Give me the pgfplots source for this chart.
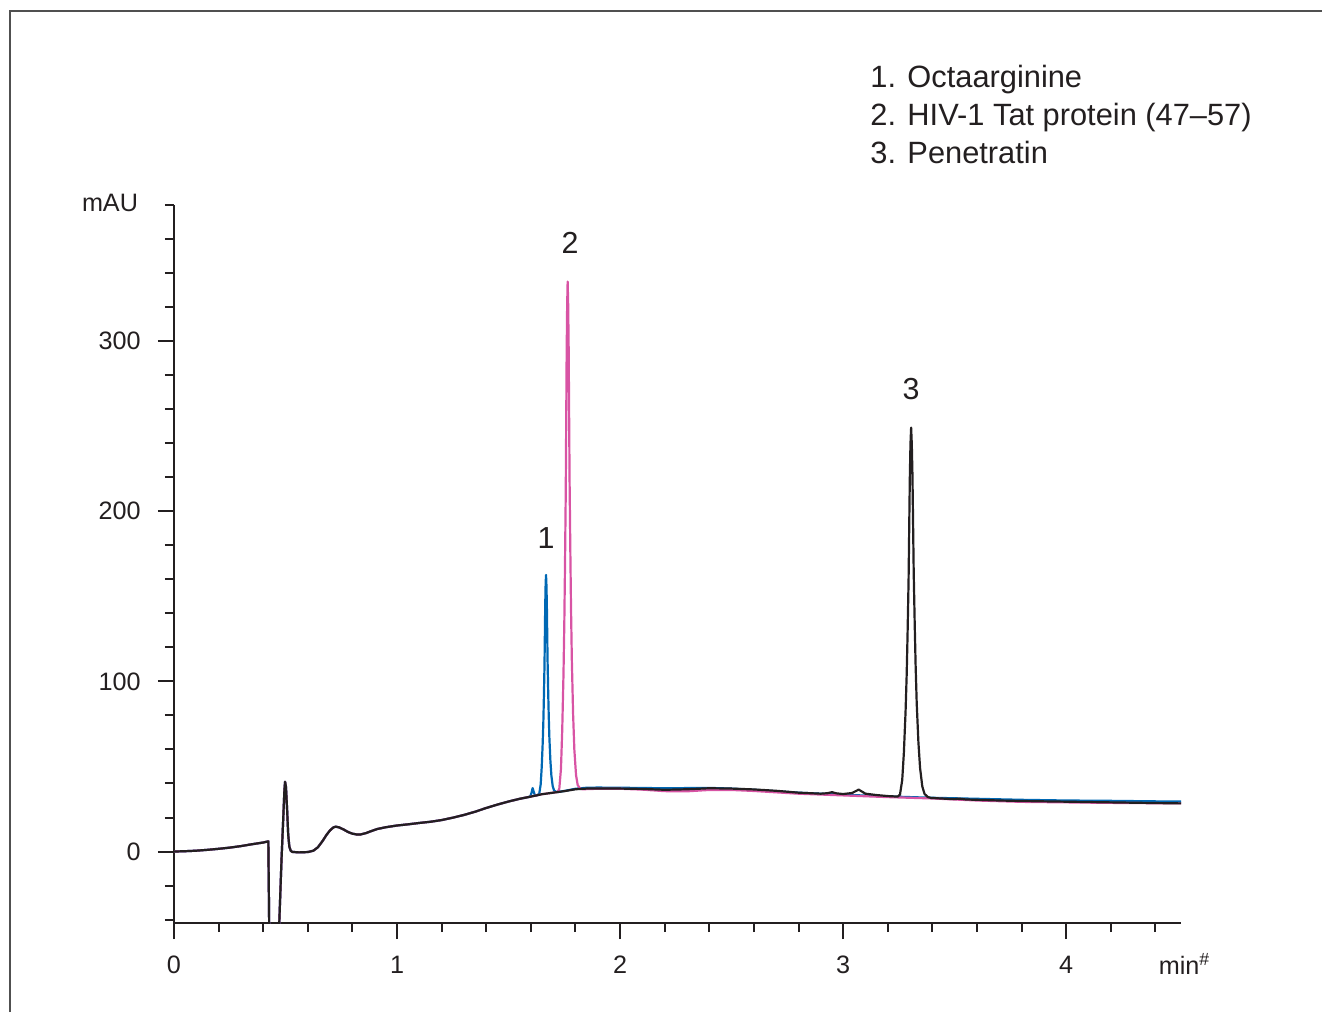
\documentclass[border=0pt]{standalone}
\usepackage{fontspec}
\setmainfont{Liberation Sans}
\usepackage{pgfplots}
\pgfplotsset{compat=1.18}
\usepackage{pgfplotstable}
\definecolor{cblue}{RGB}{0,104,180}
\definecolor{cpink}{RGB}{216,84,164}
\definecolor{cblack}{RGB}{35,31,32}
\definecolor{cframe}{RGB}{80,80,80}

\pgfplotstableread{
x y
0 0
0.05 0.2
0.1 0.5
0.15 1.0
0.2 1.6
0.25 2.3
0.3 3.2
0.35 4.3
0.4 5.3
0.423 6.0
0.428 -60
0.466 -60
0.472 -42
0.482 -5
0.490 20
0.495 36
0.498 41
0.502 38
0.507 25
0.512 10
0.517 3
0.523 0.5
0.53 -0.2
0.56 -0.5
0.6 -0.3
0.625 0.5
0.645 2.5
0.665 6
0.685 10
0.70 12.5
0.715 14.2
0.725 14.6
0.74 14.2
0.76 13
0.78 11.5
0.80 10.5
0.82 10
0.835 10
0.86 10.8
0.88 11.8
0.91 13.2
0.95 14.3
1.0 15.3
1.05 16
1.1 16.8
1.15 17.5
1.2 18.5
1.25 19.9
1.3 21.5
1.35 23.4
1.4 25.6
1.45 27.6
1.5 29.4
1.55 31
1.6 32.3
1.65 33.7
1.7 34.6
1.75 35.5
1.8 36.6
1.85 37
1.9 37
2.0 37
2.1 36.8
2.2 36.3
2.3 36.6
2.4 37.2
2.5 37.0
2.6 36.5
2.7 35.7
2.8 34.6
2.9 34.0
2.93 34.3
2.95 34.9
2.97 34.2
3.0 33.8
3.04 34.4
3.07 36.4
3.10 34.0
3.15 33.2
3.2 32.6
3.245 32.3
3.255 33.5
3.265 42.0
3.2725 58.2
3.28 82.1
3.285 103.8
3.289 127.7
3.2935 159.2
3.299 218.8
3.302 239.4
3.305 249.2
3.308 239.2
3.311 220.8
3.3165 164.4
3.321 134
3.325 110
3.33 87.2
3.3375 64.5
3.345 49.2
3.355 38.3
3.365 33.9
3.38 32.0
3.395 31.5
3.45 31.1
3.5 30.8
3.52 31.1
3.55 30.6
3.6 30.4
3.7 30.0
3.8 29.7
4.0 29.3
4.2 28.9
4.4 28.5
4.515 28.3
}\penetratin

\pgfplotstableread{
x y
0 0
0.05 0.2
0.1 0.5
0.15 1.0
0.2 1.6
0.25 2.3
0.3 3.2
0.35 4.3
0.4 5.3
0.423 6.0
0.428 -60
0.466 -60
0.472 -42
0.482 -5
0.490 20
0.495 36
0.498 41
0.502 38
0.507 25
0.512 10
0.517 3
0.523 0.5
0.53 -0.2
0.56 -0.5
0.6 -0.3
0.625 0.5
0.645 2.5
0.665 6
0.685 10
0.70 12.5
0.715 14.2
0.725 14.6
0.74 14.2
0.76 13
0.78 11.5
0.80 10.5
0.82 10
0.835 10
0.86 10.8
0.88 11.8
0.91 13.2
0.95 14.3
1.0 15.3
1.05 16
1.1 16.8
1.15 17.5
1.2 18.5
1.25 19.9
1.3 21.5
1.35 23.4
1.4 25.6
1.45 27.6
1.5 29.4
1.55 31
1.59 32.0
1.598 32.6
1.603 34.5
1.608 37.3
1.613 35.0
1.618 33.2
1.625 32.9
1.632 33.3
1.638 34.3
1.644 39.4
1.6485 49.1
1.653 63.4
1.656 76.2
1.6584 90.5
1.6611 109.1
1.6644 144.6
1.6662 156.8
1.668 162.6
1.6698 156.8
1.6716 145.9
1.6749 112.5
1.6776 94.5
1.68 80.5
1.683 67
1.6875 53.6
1.692 44.7
1.698 38.4
1.704 35.9
1.713 35.1
1.722 35
1.75 35.6
1.8 36.9
1.85 37.5
1.9 37.6
2.0 37.5
2.2 37.2
2.4 37.4
2.5 37.0
2.6 36.3
2.8 34.6
3.0 33.4
3.2 32.4
3.4 31.6
3.6 31.0
3.8 30.4
4.0 30.0
4.2 29.8
4.4 29.5
4.515 29.4
}\octaarginine

\pgfplotstableread{
x y
0 0
0.05 0.2
0.1 0.5
0.15 1.0
0.2 1.6
0.25 2.3
0.3 3.2
0.35 4.3
0.4 5.3
0.423 6.0
0.428 -60
0.466 -60
0.472 -42
0.482 -5
0.490 20
0.495 36
0.498 41
0.502 38
0.507 25
0.512 10
0.517 3
0.523 0.5
0.53 -0.2
0.56 -0.5
0.6 -0.3
0.625 0.5
0.645 2.5
0.665 6
0.685 10
0.70 12.5
0.715 14.2
0.725 14.6
0.74 14.2
0.76 13
0.78 11.5
0.80 10.5
0.82 10
0.835 10
0.86 10.8
0.88 11.8
0.91 13.2
0.95 14.3
1.0 15.3
1.05 16
1.1 16.8
1.15 17.5
1.2 18.5
1.25 19.9
1.3 21.5
1.35 23.4
1.4 25.6
1.45 27.6
1.5 29.4
1.55 31
1.6 32.3
1.65 33.7
1.7 34.6
1.72 35
1.7275 36.9
1.735 48.7
1.7406 71.2
1.7463 104.2
1.75 134.2
1.753 167.2
1.7564 210.6
1.7605 293.1
1.7628 321.5
1.765 335
1.7673 321.5
1.7695 296.1
1.7736 218.3
1.777 176.5
1.78 143.5
1.7838 112.2
1.7894 80.7
1.795 59.9
1.8025 45
1.81 39.1
1.8213 36.9
1.8325 36.6
1.9 36.9
2.0 36.9
2.1 36.4
2.2 35.5
2.3 35.4
2.4 36.2
2.5 36.2
2.6 35.6
2.8 34.0
3.0 33.0
3.2 32.0
3.4 31.2
3.6 30.0
3.8 29.2
4.0 28.9
4.2 28.6
4.4 28.4
4.515 28.3
}\tatprotein

\begin{document}
\fontsize{12.6}{15}\selectfont
\begin{tikzpicture}[font=\fontsize{12.6}{15}\selectfont]
\useasboundingbox (-87pt,-44.5pt) rectangle (574pt,461.5pt);
\draw[line width=1pt, color=cframe] (-82pt,-44.5pt) -- (-82pt,456pt) -- (574pt,456pt);
\begin{axis}[
  at={(0pt,0pt)}, anchor=south west,
  scale only axis, width=503.5pt, height=359pt,
  xmin=0, xmax=4.515, ymin=-42, ymax=380,
  axis x line*=bottom, axis y line*=left,
  axis line style={line width=1pt, color=cblack},
  every tick/.append style={line width=1pt, color=cblack},
  tick align=outside,
  major tick length=8pt, minor tick length=4.5pt,
  xtick={0,1,2,3,4}, ytick={0,100,200,300},
  minor xtick={0.2,0.4,0.6,0.8,1.2,1.4,1.6,1.8,2.2,2.4,2.6,2.8,3.2,3.4,3.6,3.8,4.2,4.4},
  minor ytick={-40,-20,20,40,60,80,120,140,160,180,220,240,260,280,320,340,360,380},
  /pgf/number format/assume math mode=true,
  tick label style={font=\fontsize{12.6}{15}\selectfont, color=cblack},
  xticklabel style={yshift=-4.3pt},
  yticklabel style={xshift=-4.3pt},
  clip mode=individual,
]
\addplot[cblue, line width=1.1pt, line join=round] table[x=x,y=y] {\octaarginine};
\addplot[cpink, line width=1.1pt, line join=round] table[x=x,y=y] {\tatprotein};
\addplot[cblack, line width=1.1pt, line join=round] table[x=x,y=y] {\penetratin};
\node[color=cblack, font=\fontsize{15.2}{18}\selectfont] at (axis cs:1.668,184) {1};
\node[color=cblack, font=\fontsize{15.2}{18}\selectfont] at (axis cs:1.776,357.6) {2};
\node[color=cblack, font=\fontsize{15.2}{18}\selectfont] at (axis cs:3.305,272) {3};
\end{axis}
\node[color=cblack] at (-32pt,360pt) {mAU};
\node[color=cblack, anchor=base west] at (488pt,-25.5pt) {min\textsuperscript{\#}};
\begin{scope}[font=\fontsize{15.4}{18}\selectfont]
\node[color=cblack, anchor=base west, inner sep=0pt] at (348pt,417.5pt) {1. Octaarginine};
\node[color=cblack, anchor=base west, inner sep=0pt] at (348pt,398.5pt) {2. HIV-1 Tat protein (47–57)};
\node[color=cblack, anchor=base west, inner sep=0pt] at (348pt,379.5pt) {3. Penetratin};
\end{scope}
\end{tikzpicture}
\end{document}
